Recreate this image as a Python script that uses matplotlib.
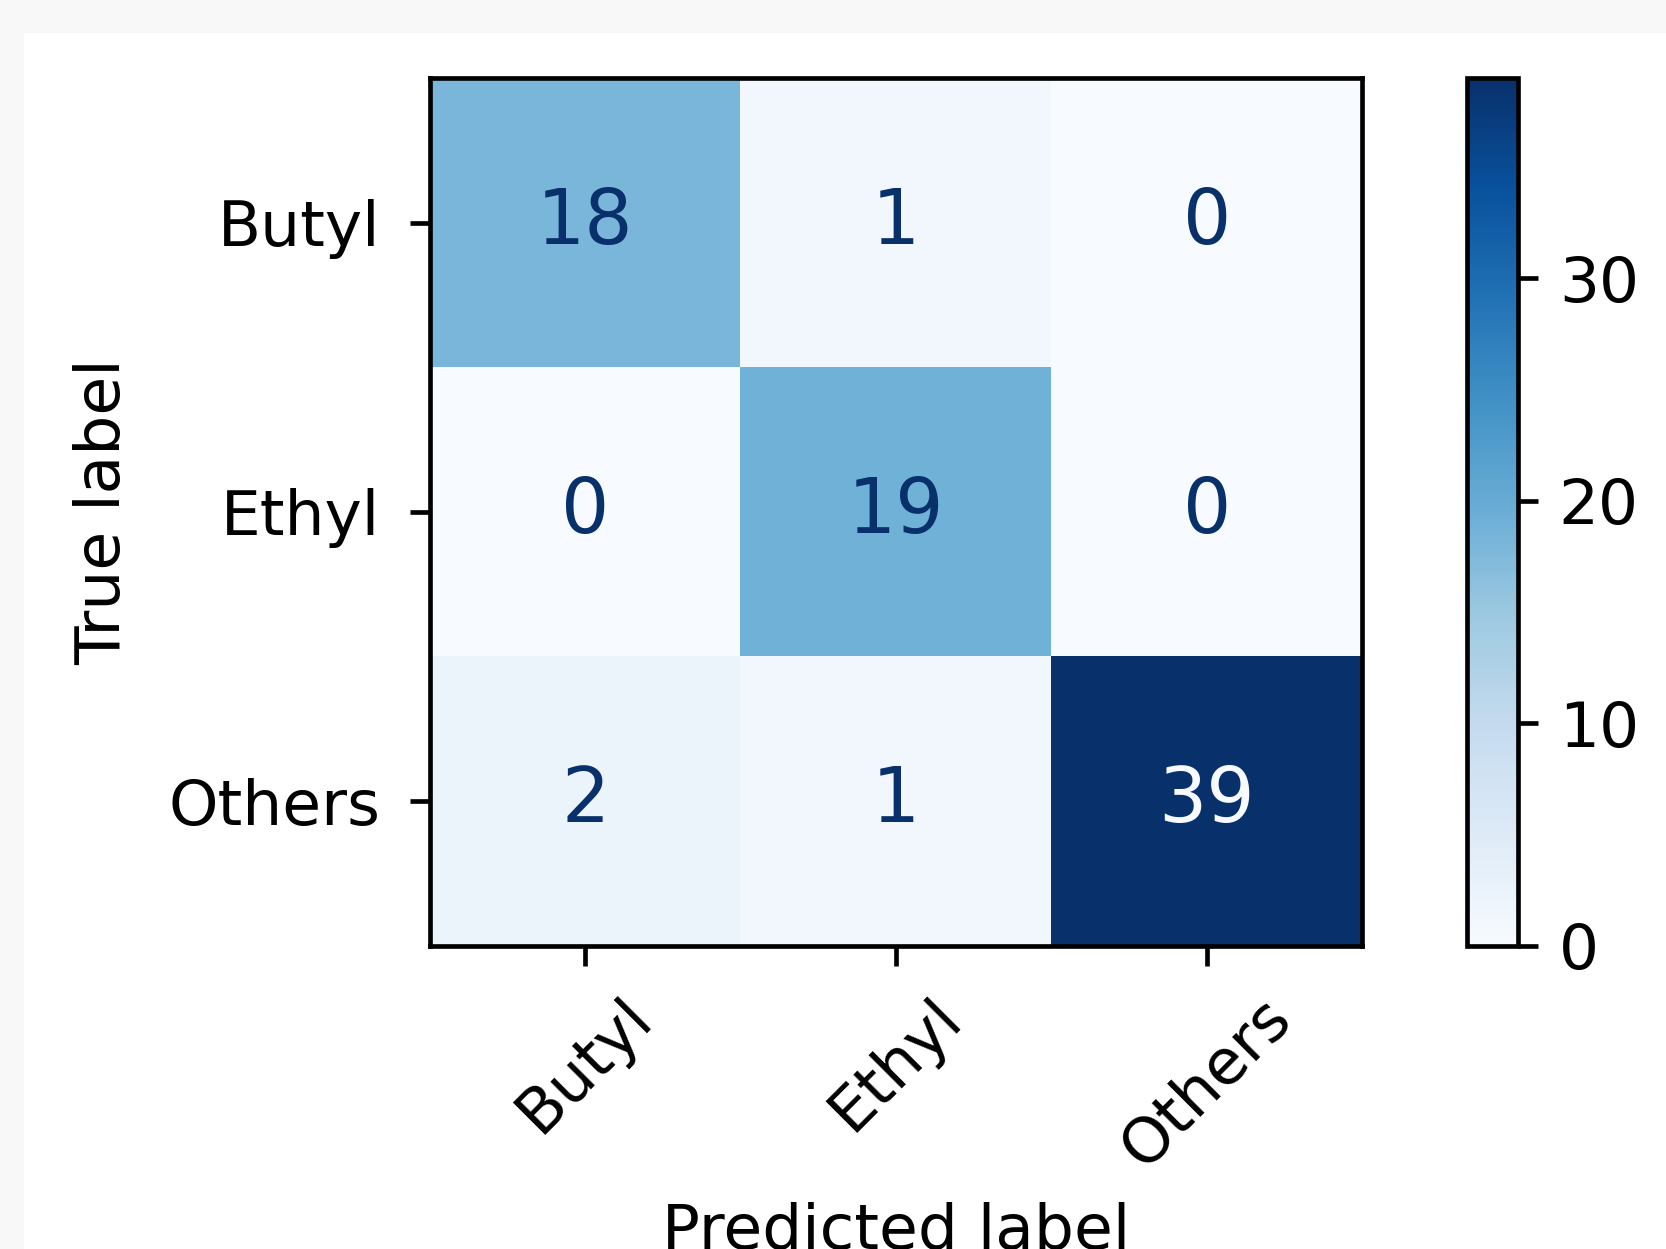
import matplotlib
matplotlib.use('Agg')
import matplotlib.pyplot as plt
from matplotlib.patches import Rectangle
import numpy as np

labels = ['Butyl', 'Ethyl', 'Others']
cm = np.array([[18, 1, 0],
               [0, 19, 0],
               [2, 1, 39]])
cbar_ticks = [0, 10, 20, 30]

W, H = 1666, 1249
dpi = 420
fig = plt.figure(figsize=(W / dpi, H / dpi), dpi=dpi)
fig.patch.set_facecolor('#f8f8f8')

# white card behind the plot
fig.patches.append(Rectangle((24 / W, 0), 1 - 24 / W, 1 - 33 / H,
                             transform=fig.transFigure, facecolor='white',
                             edgecolor='none', zorder=-10))

ax = fig.add_axes([430 / W, 1 - 946 / H, 932 / W, 868 / H])
cax = fig.add_axes([1467 / W, 1 - 946 / H, 51 / W, 868 / H])

cmap = plt.cm.Blues
im = ax.imshow(cm, cmap=cmap, vmin=0, vmax=cm.max(), aspect='auto',
               interpolation='nearest')

thresh = (cm.max() + cm.min()) / 2.0
for i in range(cm.shape[0]):
    for j in range(cm.shape[1]):
        color = cmap(0.0) if cm[i, j] > thresh else cmap(1.0)
        ax.text(j, i, str(cm[i, j]), ha='center', va='center',
                color=color, fontsize=13)

fs = 10.8
ax.set_xticks(range(len(labels)))
ax.set_yticks(range(len(labels)))
ax.set_xticklabels(labels, rotation=45)
ax.set_yticklabels(labels)
ax.tick_params(labelsize=fs)
ax.tick_params(axis='y', pad=5)
ax.set_xlabel('Predicted label', fontsize=fs)
ax.set_ylabel('True label', fontsize=fs, labelpad=6)

cb = fig.colorbar(im, cax=cax, ticks=cbar_ticks)
cb.ax.tick_params(labelsize=fs)

fig.savefig('out.png', dpi=dpi, facecolor=fig.get_facecolor())
